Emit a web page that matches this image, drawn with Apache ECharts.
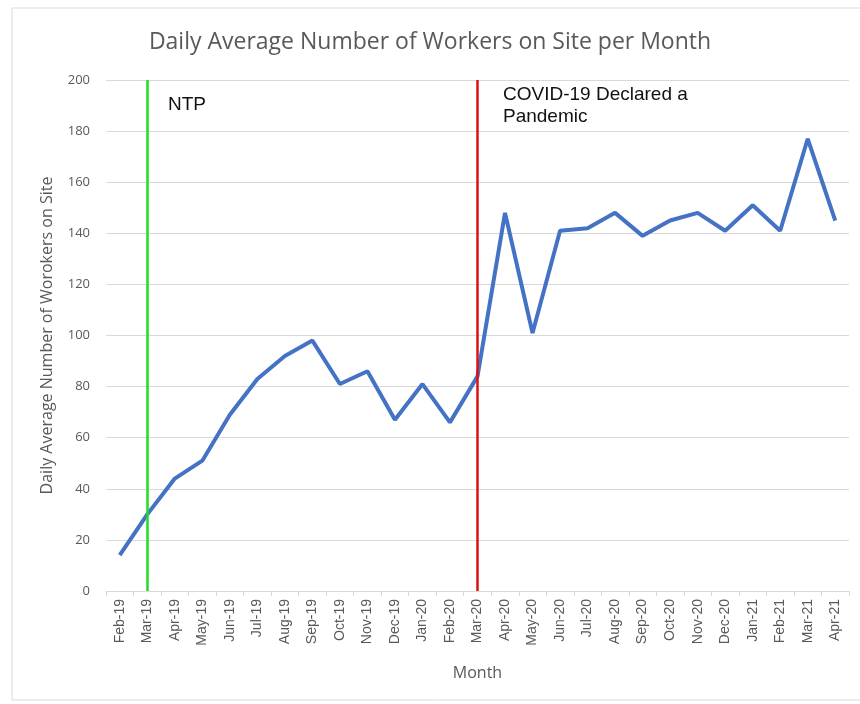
<html lang="en">
<head>
    <meta charset="UTF-8">
    <title>Daily Average Number of Workers on Site per Month</title>
    <script type="text/javascript" src="https://cdn.jsdelivr.net/npm/echarts@6/dist/echarts.min.js"></script>
</head>
<style>
    body { margin: 0; background: #fff; }
    #container { width: 860px; height: 704px; }
</style>
<body>
<div id="container"></div>
<script>
    // months on the x axis
    var months = ['Feb-19', 'Mar-19', 'Apr-19', 'May-19', 'Jun-19', 'Jul-19', 'Aug-19', 'Sep-19',
        'Oct-19', 'Nov-19', 'Dec-19', 'Jan-20', 'Feb-20', 'Mar-20', 'Apr-20', 'May-20', 'Jun-20',
        'Jul-20', 'Aug-20', 'Sep-20', 'Oct-20', 'Nov-20', 'Dec-20', 'Jan-21', 'Feb-21', 'Mar-21', 'Apr-21'];
    // daily average workers
    var workers = [14, 30, 44, 51, 69, 83, 92, 98, 81, 86, 67, 81, 66, 84,
        148, 101, 141, 142, 148, 139, 145, 148, 141, 151, 141, 177, 145];
    // event markers
    var events = [
        {month: 'Mar-19', color: '#22dd22'},
        {month: 'Mar-20', color: '#dd1111'}
    ];

    var grey = '#595959';
    var chart = echarts.init(document.getElementById('container'));

    var option = {
        animation: false,
        title: {
            text: 'Daily Average Number of Workers on Site per Month',
            left: 'center',
            top: 26,
            textStyle: {color: grey, fontSize: 23, fontWeight: 'normal', fontFamily: 'Open Sans'}
        },
        grid: {left: 106, right: 11, top: 80, bottom: 113},
        xAxis: {
            type: 'category',
            data: months,
            boundaryGap: true,
            name: 'Month',
            nameLocation: 'middle',
            nameGap: 74,
            nameTextStyle: {color: grey, fontSize: 16, fontFamily: 'Open Sans'},
            axisLine: {lineStyle: {color: '#d9d9d9'}},
            axisTick: {show: true, length: 5, lineStyle: {color: '#d9d9d9'}},
            axisLabel: {rotate: 90, interval: 0, color: grey, fontSize: 14, fontFamily: 'Liberation Sans', margin: 8}
        },
        yAxis: {
            type: 'value',
            min: 0,
            max: 200,
            interval: 20,
            name: 'Daily Average Number of Worokers on Site',
            nameLocation: 'middle',
            nameGap: 51,
            nameTextStyle: {color: grey, fontSize: 16, fontFamily: 'Open Sans'},
            axisLine: {show: false},
            axisTick: {show: false},
            axisLabel: {color: grey, fontSize: 13, fontFamily: 'Open Sans', margin: 16},
            splitLine: {lineStyle: {color: '#d9d9d9'}}
        },
        series: [{
            type: 'line',
            data: workers,
            symbol: 'none',
            lineStyle: {color: '#4472c4', width: 4},
            markLine: {
                silent: true,
                symbol: 'none',
                label: {show: false},
                data: events.map(function (e) {
                    return {xAxis: e.month, lineStyle: {color: e.color, width: 2.5, type: 'solid'}};
                })
            }
        }],
        graphic: [
            {
                type: 'rect',
                shape: {x: 12, y: 8, width: 860, height: 692},
                style: {fill: 'none', stroke: '#d9d9d9', lineWidth: 1},
                silent: true
            },
            {
                type: 'text', left: 168, top: 95,
                style: {text: 'NTP', fill: '#111', fontSize: 19, fontFamily: 'Liberation Sans'}
            },
            {
                type: 'text', left: 503, top: 84,
                style: {text: 'COVID-19 Declared a\nPandemic', fill: '#111', fontSize: 19, lineHeight: 22, fontFamily: 'Liberation Sans'}
            }
        ]
    };

    chart.setOption(option);
</script>
</body>
</html>
